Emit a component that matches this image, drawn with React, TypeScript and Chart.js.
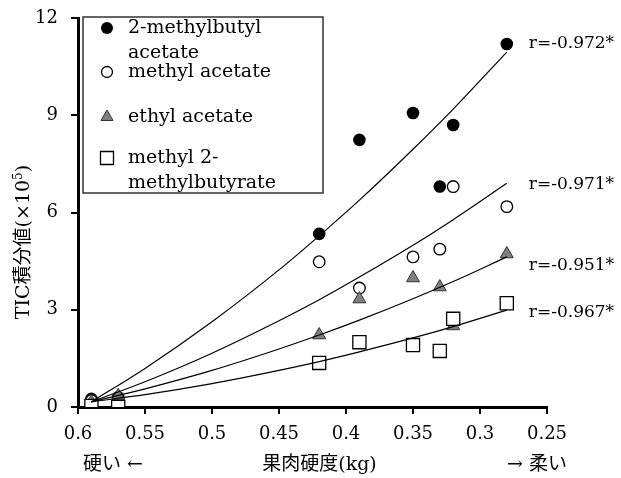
import React, { useEffect, useRef } from 'react';
import { Chart, registerables } from 'chart.js';

Chart.register(...registerables);

// ---- data ----
const hardness = [0.59, 0.57, 0.42, 0.39, 0.35, 0.33, 0.32, 0.28];
const methylbutylAcetate = [0.25, 0.3, 5.34, 8.24, 9.07, 6.8, 8.7, 11.2];
const methylAcetate = [0.2, 0.22, 4.48, 3.67, 4.63, 4.87, 6.8, 6.18];
const ethylAcetate = [0.15, 0.35, 2.22, 3.33, 3.98, 3.7, 2.5, 4.72];
const methyl2Methylbutyrate = [0.03, 0.0, 1.36, 2.0, 1.91, 1.73, 2.72, 3.2];

// trend curves
const fitX = [0.59, 0.55, 0.5, 0.45, 0.42, 0.39, 0.35, 0.32, 0.28];
const fitMethylbutylAcetate = [0.16, 1.19, 2.63, 4.23, 5.28, 6.38, 7.95, 9.19, 10.95];
const fitMethylAcetate = [0.16, 0.78, 1.66, 2.66, 3.31, 4.01, 4.99, 5.78, 6.9];
const fitEthylAcetate = [0.16, 0.56, 1.13, 1.79, 2.22, 2.68, 3.34, 3.87, 4.63];
const fitMethyl2Methylbutyrate = [0.16, 0.38, 0.72, 1.13, 1.4, 1.7, 2.13, 2.48, 2.99];

const rLabels = ['r=-0.972*', 'r=-0.971*', 'r=-0.951*', 'r=-0.967*'];
const rLabelAt = [11.2, 6.85, 4.35, 2.9];

const legendLines = [
  ['2-methylbutyl', 'acetate'],
  ['methyl acetate'],
  ['ethyl acetate'],
  ['methyl 2-', 'methylbutyrate'],
];
const legendStyles = ['filled', 'open', 'triangle', 'square'];

const xTicks = { min: 0.25, max: 0.6, step: 0.05 };
const yTicks = { min: 0, max: 12, step: 3 };

const SERIF = '"DejaVu Serif", "Noto Sans CJK JP", serif';

function drawMarker(ctx: CanvasRenderingContext2D, style: string, x: number, y: number) {
  ctx.save();
  ctx.beginPath();
  if (style === 'filled') {
    ctx.arc(x, y, 6, 0, Math.PI * 2);
    ctx.fillStyle = '#000';
    ctx.fill();
  } else if (style === 'open') {
    ctx.arc(x, y, 5.5, 0, Math.PI * 2);
    ctx.fillStyle = '#fff';
    ctx.fill();
    ctx.lineWidth = 1.3;
    ctx.strokeStyle = '#000';
    ctx.stroke();
  } else if (style === 'triangle') {
    const r = 7;
    for (let k = 0; k < 3; k++) {
      const a = (k * 2 * Math.PI) / 3;
      const px = x + Math.sin(a) * r;
      const py = y - Math.cos(a) * r;
      if (k === 0) ctx.moveTo(px, py);
      else ctx.lineTo(px, py);
    }
    ctx.closePath();
    ctx.fillStyle = '#808080';
    ctx.fill();
    ctx.lineWidth = 1;
    ctx.strokeStyle = '#333';
    ctx.stroke();
  } else {
    ctx.rect(x - 6.5, y - 6.5, 13, 13);
    ctx.fillStyle = '#fff';
    ctx.fill();
    ctx.lineWidth = 1.3;
    ctx.strokeStyle = '#000';
    ctx.stroke();
  }
  ctx.restore();
}

const overlayPlugin = {
  id: 'overlay',
  afterDraw(chart: any) {
    const { ctx, chartArea, scales } = chart;
    const xs = scales.x;
    const ys = scales.y;
    ctx.save();

    // legend box
    const bx = chartArea.left + 5;
    const by = chartArea.top - 1;
    ctx.fillStyle = '#fff';
    ctx.fillRect(bx, by, 240, 176);
    ctx.lineWidth = 1.5;
    ctx.strokeStyle = '#333';
    ctx.strokeRect(bx, by, 240, 176);

    const entryY = [11, 55, 100, 141];
    ctx.font = `19px ${SERIF}`;
    ctx.textAlign = 'left';
    ctx.textBaseline = 'middle';
    legendLines.forEach((lines, i) => {
      const cy = by + entryY[i];
      drawMarker(ctx, legendStyles[i], bx + 24, cy);
      lines.forEach((t, j) => {
        ctx.fillStyle = '#000';
        ctx.fillText(t, bx + 45, cy + j * 25);
      });
    });

    // correlation labels
    ctx.font = `17px ${SERIF}`;
    ctx.fillStyle = '#000';
    rLabels.forEach((t, i) => {
      ctx.fillText(t, xs.getPixelForValue(0.28) + 22, ys.getPixelForValue(rLabelAt[i]));
    });

    // x-axis captions
    ctx.font = `19px ${SERIF}`;
    ctx.textBaseline = 'middle';
    const capY = chartArea.bottom + 58;
    ctx.textAlign = 'left';
    ctx.fillText('硬い ←', chartArea.left + 5, capY);
    ctx.textAlign = 'center';
    ctx.fillText('果肉硬度(kg)', (chartArea.left + chartArea.right) / 2 + 7, capY);
    ctx.textAlign = 'right';
    ctx.fillText('→ 柔い', chartArea.right + 20, capY);

    // y-axis title with superscript
    ctx.translate(24, 242);
    ctx.rotate(-Math.PI / 2);
    const main = 'TIC積分値(×10';
    const sup = '5';
    const end = ')';
    ctx.font = `19px ${SERIF}`;
    const wMain = ctx.measureText(main).width;
    const wEnd = ctx.measureText(end).width;
    ctx.font = `12px ${SERIF}`;
    const wSup = ctx.measureText(sup).width;
    const total = wMain + wSup + wEnd;
    let cx = -total / 2;
    ctx.textAlign = 'left';
    ctx.textBaseline = 'middle';
    ctx.font = `19px ${SERIF}`;
    ctx.fillText(main, cx, 0);
    cx += wMain;
    ctx.font = `12px ${SERIF}`;
    ctx.fillText(sup, cx, -5);
    cx += wSup;
    ctx.font = `19px ${SERIF}`;
    ctx.fillText(end, cx, 0);

    ctx.restore();
  },
};

const pts = (xsArr: number[], ysArr: number[]) => xsArr.map((x, i) => ({ x, y: ysArr[i] }));

export default function App() {
  const ref = useRef<HTMLCanvasElement | null>(null);

  useEffect(() => {
    document.body.style.margin = '0';
    const canvas = ref.current;
    if (!canvas) return;
    const lineDs = (d: number[]) => ({
      data: pts(fitX, d),
      showLine: true,
      pointRadius: 0,
      borderColor: '#000',
      borderWidth: 1.2,
      cubicInterpolationMode: 'monotone' as const,
      fill: false,
    });
    const chart = new Chart(canvas, {
      type: 'scatter',
      data: {
        datasets: [
          lineDs(fitMethylbutylAcetate),
          lineDs(fitMethylAcetate),
          lineDs(fitEthylAcetate),
          lineDs(fitMethyl2Methylbutyrate),
          {
            label: 'methyl 2-methylbutyrate',
            data: pts(hardness, methyl2Methylbutyrate),
            pointStyle: 'rect',
            pointRadius: 9.3,
            backgroundColor: '#fff',
            borderColor: '#000',
            borderWidth: 1.3,
          },
          {
            label: 'ethyl acetate',
            data: pts(hardness, ethylAcetate),
            pointStyle: 'triangle',
            pointRadius: 7.5,
            backgroundColor: '#808080',
            borderColor: '#333',
            borderWidth: 1,
          },
          {
            label: 'methyl acetate',
            data: pts(hardness, methylAcetate),
            pointStyle: 'circle',
            pointRadius: 5.8,
            backgroundColor: '#fff',
            borderColor: '#000',
            borderWidth: 1.3,
          },
          {
            label: '2-methylbutyl acetate',
            data: pts(hardness, methylbutylAcetate),
            pointStyle: 'circle',
            pointRadius: 6.3,
            backgroundColor: '#000',
            borderColor: '#000',
            borderWidth: 0,
          },
        ],
      },
      options: {
        responsive: false,
        animation: false,
        events: [],
        layout: { padding: { top: 18, right: 74, bottom: 0, left: 0 } },
        plugins: { legend: { display: false }, tooltip: { enabled: false } },
        scales: {
          x: {
            type: 'linear',
            reverse: true,
            min: xTicks.min,
            max: xTicks.max,
            afterFit: (s: any) => {
              s.height = 71;
            },
            ticks: {
              stepSize: xTicks.step,
              color: '#000',
              padding: 10,
              font: { family: SERIF, size: 18 },
              callback: (v: any) => String(Math.round(Number(v) * 100) / 100),
            },
            grid: { drawOnChartArea: false, drawTicks: true, tickLength: 7, color: '#000', lineWidth: 2 },
            border: { display: true, color: '#000', width: 3 },
          },
          y: {
            type: 'linear',
            min: yTicks.min,
            max: yTicks.max,
            afterFit: (s: any) => {
              s.width = 78;
              s.paddingTop = 0;
              s.paddingBottom = 0;
            },
            ticks: {
              stepSize: yTicks.step,
              color: '#000',
              padding: 13,
              font: { family: SERIF, size: 18 },
            },
            grid: { drawOnChartArea: false, drawTicks: true, tickLength: 7, color: '#000', lineWidth: 2 },
            border: { display: true, color: '#000', width: 3 },
          },
        },
      },
      plugins: [overlayPlugin],
    });
    return () => chart.destroy();
  }, []);

  return (
    <div style={{ width: 621, height: 478 }}>
      <canvas ref={ref} width={621} height={478} />
    </div>
  );
}
